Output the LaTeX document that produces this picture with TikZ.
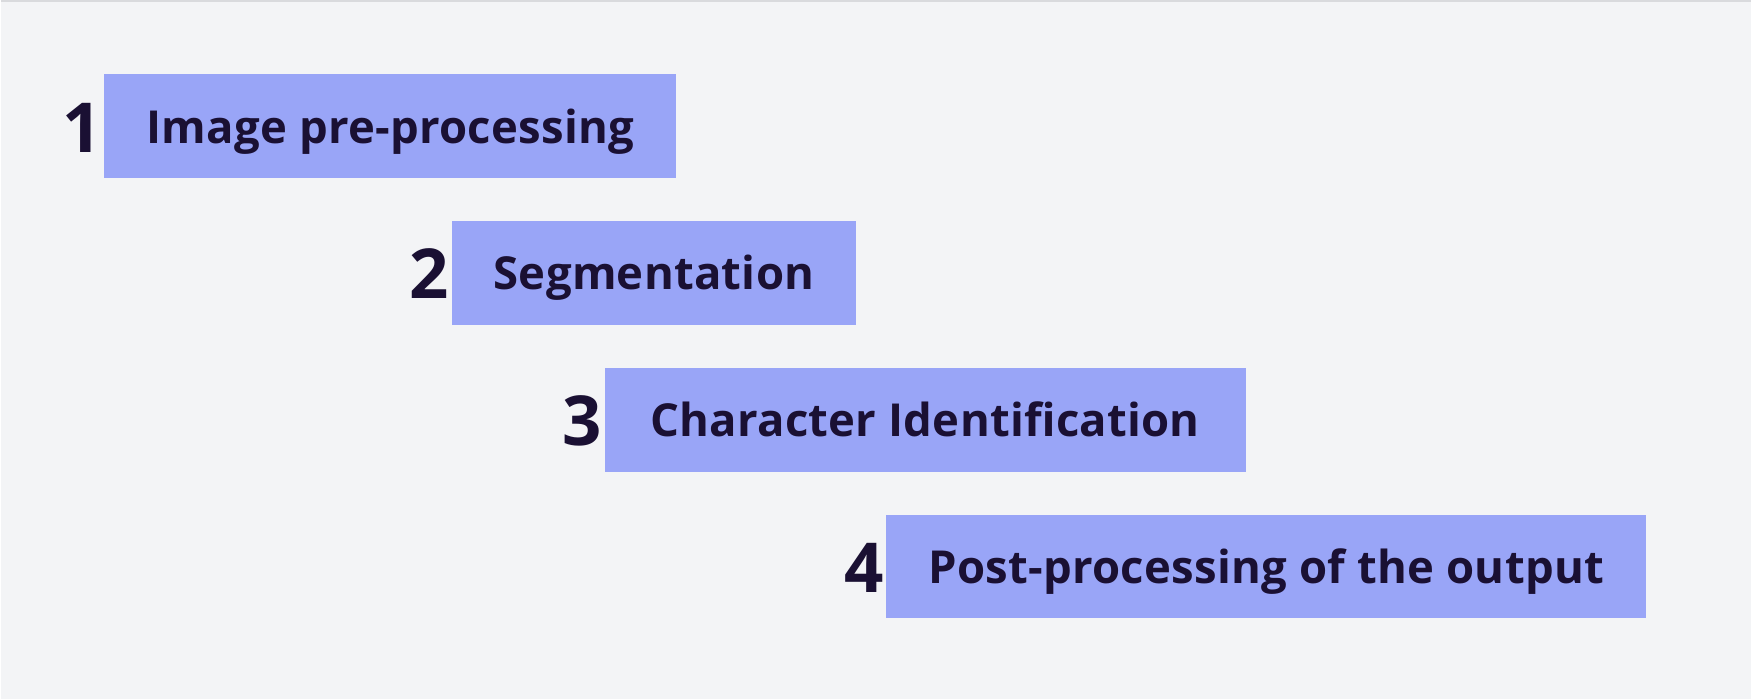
\documentclass[tikz,border=0pt]{standalone}
\usepackage{fontspec}
\setmainfont{Open Sans}
\usetikzlibrary{positioning}

\definecolor{bgGray}{HTML}{F3F4F6}
\definecolor{lineGray}{HTML}{D9DADD}
\definecolor{stepBlue}{HTML}{99A5F7}
\definecolor{inkNavy}{HTML}{1A1033}

\begin{document}
\begin{tikzpicture}[x=1pt, y=-1pt,
    stepbox/.style={fill=stepBlue, anchor=north west, inner sep=0pt, minimum height=104pt,
      text height=34pt, text depth=0pt, font=\fontsize{45.5}{54}\selectfont\bfseries\addfontfeature{LetterSpace=0.6}, text=inkNavy},
    stepnum/.style={inner sep=0pt, text height=52pt, text depth=0pt,
      font=\fontsize{69}{80}\selectfont\bfseries, text=inkNavy}]
  \fill[bgGray] (0,0) rectangle (1752,700);
  \draw[lineGray, line width=2pt] (0,1) -- (1752,1);
  \useasboundingbox (0,0) rectangle (1752,700);

  % steps, staircase to the lower right
  \foreach \i/\x/\y/\w/\txt in {1/103/74/573/Image pre-processing,
      2/451/221/405/Segmentation,
      3/604/368/642/Character Identification,
      4/886/515/761/Post-processing of the output} {
    \node[stepbox, minimum width=\w pt] (step\i) at (\x,\y) {\txt};
    \node[stepnum, left=2pt of step\i] (num\i) {\i};
  }
\end{tikzpicture}
\end{document}
